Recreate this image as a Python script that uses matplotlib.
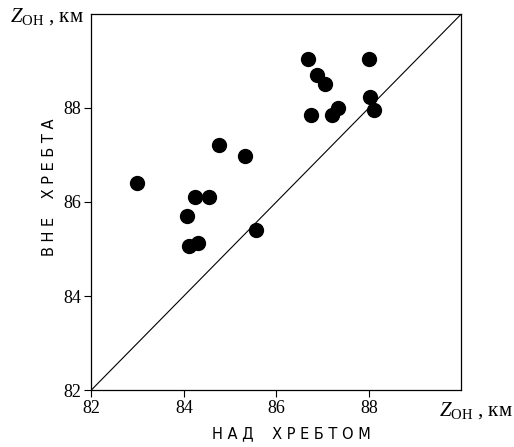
import numpy as np
import matplotlib
matplotlib.use("Agg")
import matplotlib.pyplot as plt

# Z_ОН над хребтом / вне хребта, км
z_nad = [82.98, 84.75, 85.33, 84.24, 84.54, 84.06, 84.11, 84.30, 85.56,
         86.68, 86.89, 87.06, 86.75, 87.20, 87.34, 88.00, 88.02, 88.11]
z_vne = [86.41, 87.21, 86.97, 86.10, 86.10, 85.71, 85.06, 85.13, 85.41,
         89.04, 88.71, 88.51, 87.86, 87.86, 88.00, 89.04, 88.24, 87.95]
ticks = [82, 84, 86, 88]
lim = [82, 90]


def main():
    plt.rcParams['mathtext.fontset'] = 'custom'
    plt.rcParams['mathtext.rm'] = 'Liberation Serif'
    plt.rcParams['mathtext.it'] = 'Liberation Serif:italic'

    fig = plt.figure(figsize=(5.14, 4.47), dpi=100)
    ax = fig.add_axes([0.1777, 0.1275, 0.7198, 0.8412])

    ax.plot(lim, lim, color='black', lw=0.8)
    ax.scatter(z_nad, z_vne, s=100, color='black', zorder=3)

    ax.set_xlim(lim)
    ax.set_ylim(lim)
    ax.set_xticks(ticks)
    ax.set_yticks(ticks)
    ax.tick_params(direction='out', length=5, width=0.8, top=False, right=False,
                   labelsize=13, pad=2)
    for lab in ax.get_xticklabels() + ax.get_yticklabels():
        lab.set_family('Liberation Serif')
    for sp in ax.spines.values():
        sp.set_linewidth(0.9)

    fig.text(0.02, 0.962, r'$Z_{\rm ОН}$ , км', fontsize=15, family='Liberation Serif',
             ha='left', va='center')
    fig.text(0.998, 0.082, r'$Z_{\rm ОН}$ , км', fontsize=15, family='Liberation Serif',
             ha='right', va='center')
    fig.text(0.567, 0.03, 'Н А Д    Х Р Е Б Т О М', fontsize=10.5,
             family='DejaVu Sans', ha='center', va='center')
    fig.text(0.097, 0.582, 'В Н Е    Х Р Е Б Т А', fontsize=10.5,
             family='DejaVu Sans', ha='center', va='center', rotation=90)

    fig.savefig('out.png', dpi=100)


if __name__ == "__main__":
    main()
